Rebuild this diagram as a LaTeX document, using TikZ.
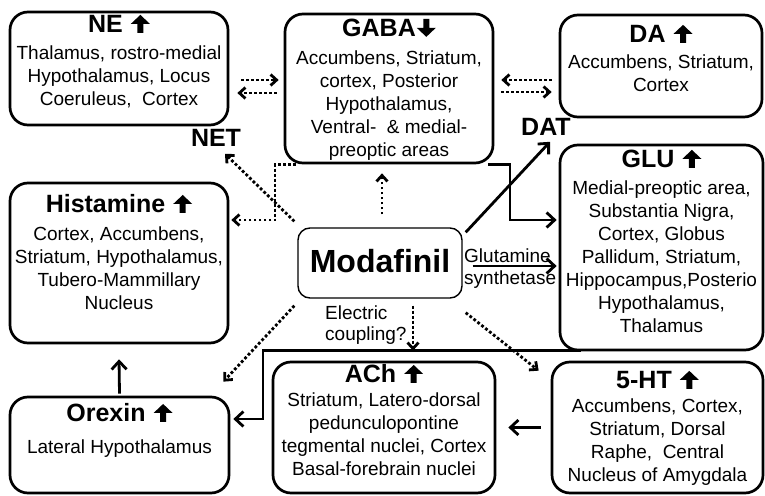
\documentclass[tikz,border=0pt]{standalone}
\usepackage{fontspec}
\setmainfont{Liberation Sans}
\usepackage{tikz}
\usetikzlibrary{arrows.meta,positioning,calc}

% bold arrow marks after the transmitter names
\newcommand{\uparr}{\tikz[x=1pt,y=1pt,baseline=0pt]\fill (6.5,0) -- (6.5,9) -- (0,9) -- (9.5,18) -- (19,9) -- (12.5,9) -- (12.5,0) -- cycle;}
\newcommand{\downarr}{\tikz[x=1pt,y=1pt,baseline=0pt]\fill (6.5,18) -- (6.5,9) -- (0,9) -- (9.5,0) -- (19,9) -- (12.5,9) -- (12.5,18) -- cycle;}
\newcommand{\upt}[1]{{\fontsize{25}{27}\selectfont\bfseries #1}\hspace{8pt}\uparr}
\newcommand{\downt}[1]{{\fontsize{25}{27}\selectfont\bfseries #1}\hspace{1pt}\downarr}

\begin{document}
\begin{tikzpicture}[
    x=1pt, y=-1pt,
    box/.style={draw, line width=2.7pt, rounded corners=18pt, inner sep=0pt},
    txt/.style={align=center, inner sep=0pt, anchor=north, font=\fontsize{19}{23}\selectfont},
    tag/.style={inner sep=0pt, font=\fontsize{25}{27}\selectfont\bfseries},
    note/.style={align=left, inner sep=0pt, anchor=north west, font=\fontsize{19}{22}\selectfont},
    link/.style={line width=2.8pt, -{Straight Barb[length=8pt,width=15pt]}},
    dotlink/.style={line width=2.8pt, dash pattern=on 2.8pt off 2.2pt, -{Straight Barb[length=6pt,width=11pt]}}
]
\useasboundingbox (0,0) rectangle (765,495);

% Top row
\node[box, minimum width=218pt, minimum height=113pt] (ne) at (119,68.5) {};
\node[box, minimum width=208pt, minimum height=149pt] (gaba) at (389,88.5) {};
\node[box, minimum width=202pt, minimum height=102pt] (da) at (661,66) {};

% Middle row
\node[box, minimum width=218pt, minimum height=160pt] (hist) at (119,263) {};
\node[box, rounded corners=12pt, line width=1.4pt, minimum width=164pt, minimum height=70pt,
      font=\fontsize{32}{34}\selectfont\bfseries] (mod) at (380,263) {\raisebox{4pt}{Modafinil}};
\node[box, minimum width=203pt, minimum height=205pt] (glu) at (661.5,247.5) {};

% Bottom row
\node[box, minimum width=219pt, minimum height=96pt] (orexin) at (119.5,445) {};
\node[box, minimum width=222pt, minimum height=131pt] (ach) at (384,427.5) {};
\node[box, minimum width=211pt, minimum height=131pt] (ht) at (657.5,427.5) {};

% Box texts
\node[txt, below=4pt of ne.north] (ne-t) {\upt{NE}\\[4pt]
    Thalamus, rostro-medial\\ Hypothalamus, Locus\\ Coeruleus,~ Cortex};
\node[txt, below=6pt of gaba.north] (gaba-t) {\downt{GABA}\\[5pt]
    Accumbens, Striatum,\\ cortex, Posterior\\ Hypothalamus,\\ Ventral-~ \& medial-\\ preoptic areas};
\node[txt, below=11pt of da.north] (da-t) {\upt{DA}\\[3pt]
    Accumbens, Striatum,\\ Cortex};
\node[txt, below=6pt of glu.north] (glu-t) {\upt{GLU}\\[4pt]
    Medial-preoptic area,\\ Substantia Nigra,\\ Cortex, Globus\\ Pallidum, Striatum,\\
    Hippocampus,Posterio\\ Hypothalamus,\\ Thalamus};
\node[txt, below=13pt of hist.north] (hist-t) {\upt{Histamine}\\[5pt]
    Cortex, Accumbens,\\ Striatum, Hypothalamus,\\ Tubero-Mammillary\\ Nucleus};
\node[txt, below=8pt of orexin.north] (orexin-t) {\upt{Orexin}\\[9pt]
    Lateral Hypothalamus};
\node[txt, below=4pt of ach.north] (ach-t) {\upt{ACh}\\[1pt]
    Striatum, Latero-dorsal\\ pedunculopontine\\ tegmental nuclei, Cortex\\ Basal-forebrain nuclei};
\node[txt, below=10pt of ht.north] (ht-t) {\upt{5-HT}\\[1pt]
    Accumbens, Cortex,\\ Striatum, Dorsal\\ Raphe,~ Central\\ Nucleus of Amygdala};

% Free labels
\node[tag] (net) at (216,138) {NET};
\node[tag] (dat) at (546,127) {DAT};
\node[note] (glut) at (464,249) {Glutamine\\synthetase};
\node[note, font=\fontsize{19}{21}\selectfont] (elec) at (325,306) {Electric\\coupling?};

% Transporter exchange
\draw[dotlink] ($(ne.east |- 0,80)+(12,0)$) -- ($(gaba.west |- 0,80)+(-5,0)$);
\draw[dotlink] ($(gaba.west |- 0,93)+(-7,0)$) -- ($(ne.east |- 0,93)+(8,0)$);
\draw[dotlink] ($(da.west |- 0,80)+(-7,0)$) -- ($(gaba.east |- 0,80)+(7,0)$);
\draw[dotlink] ($(gaba.east |- 0,92)+(7,0)$) -- ($(da.west |- 0,92)+(-7,0)$);

% From Modafinil
\draw[dotlink] ($(mod.north west)+(-3,-6)$) -- ($(net.south)+(9,7)$);
\draw[dotlink] ($(mod.north)+(2,-13)$) -- ($(mod.north |- gaba.south)+(2,9)$);
\draw[dotlink] ($(gaba.south west)+(12,0)$) -| (275,220) -- ($(hist.east |- 0,220)+(2,0)$);
\draw[link] ($(mod.north east)+(3,5)$) -- ($(dat.south)+(4,6)$);
\draw[link] ($(gaba.south east)+(-6,0)$) -| (510,220) -- ($(glu.west |- 0,220)+(-2,0)$);
\draw[link] ($(mod.east |- 0,266)+(10,0)$) -- ($(glu.west |- 0,266)+(-2,0)$);
\draw[dotlink] ($(mod.south)+(33,7)$) -- ($(ach.north)+(29,-10)$);
\draw[dotlink] ($(mod.south west)+(-3,7)$) -- ($(orexin.north east)+(-7,-14)$);
\draw[dotlink] ($(mod.south east)+(3,14)$) -- ($(ht.north west)+(-12,10)$);

% Between systems
\draw[link] ($(glu.south west)+(22,-1)$) -| (263,419) -- ($(orexin.east |- 0,419)+(3,0)$);
\draw[link] ($(orexin.north)+(0,-2)$) -- ($(hist.south)+(0,15)$);
\draw[link] ($(ht.west)+(-10,0)$) -- ($(ach.east)+(12,0)$);
\end{tikzpicture}
\end{document}
